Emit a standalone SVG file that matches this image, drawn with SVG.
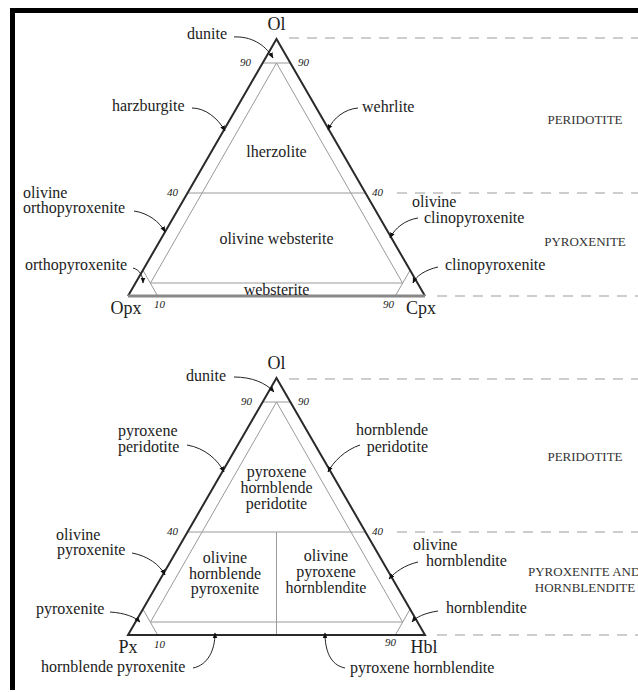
<svg xmlns="http://www.w3.org/2000/svg" width="638" height="692" viewBox="0 0 638 692">
<defs>
<marker id="ah" viewBox="0 0 10 10" refX="9" refY="5" markerWidth="6" markerHeight="6" markerUnits="userSpaceOnUse" orient="auto">
<path d="M0,1 L10,5 L0,9 z" fill="#111"/>
</marker>
<style>
text{font-family:"Liberation Serif","Times New Roman",serif;fill:#222}
.lb{font-size:16px}
.c{text-anchor:middle}
.r{text-anchor:end}
.ap{font-size:18px;text-anchor:middle}
.n{font-size:11px;font-style:italic}
.cap{font-size:13px;text-anchor:middle;fill:#333}
.edge{stroke:#2a2a2a;stroke-width:2;fill:none}
.base{stroke:#888;stroke-width:3;fill:none}
.in{stroke:#9a9a9a;stroke-width:1;fill:none}
.dash{stroke:#bdbdbd;stroke-width:1.3;stroke-dasharray:10 8;fill:none}
.arr{stroke:#222;stroke-width:1;fill:none;marker-end:url(#ah)}
</style>
</defs>
<rect width="638" height="692" fill="#fff"/>
<path d="M12.5,690 V10.5 H638" stroke="#000" stroke-width="5" fill="none"/>

<g id="dashes">
<line class="dash" x1="289" y1="38" x2="638" y2="38"/>
<line class="dash" x1="397" y1="193" x2="638" y2="193"/>
<line class="dash" x1="437" y1="296" x2="638" y2="296"/>
<line class="dash" x1="289" y1="379" x2="638" y2="379"/>
<line class="dash" x1="397" y1="532" x2="638" y2="532"/>
<line class="dash" x1="437" y1="635" x2="638" y2="635"/>
</g>

<g id="triangle-top">
<line class="in" x1="263" y1="63" x2="290" y2="63"/>
<line class="in" x1="276.5" y1="63" x2="150.5" y2="283"/>
<line class="in" x1="276.5" y1="63" x2="402.5" y2="283"/>
<line class="in" x1="187.4" y1="193" x2="365.6" y2="193"/>
<line class="in" x1="150.5" y1="283" x2="402.5" y2="283"/>
<line class="in" x1="157.7" y1="296" x2="142.8" y2="270"/>
<line class="in" x1="395.3" y1="296" x2="410.2" y2="270"/>
<path class="edge" d="M128,296 L276.5,39 L425,296"/>
<line class="base" x1="128" y1="296" x2="425" y2="296"/>
</g>

<g id="triangle-bottom">
<line class="in" x1="263" y1="402" x2="290" y2="402"/>
<line class="in" x1="276.5" y1="402" x2="150.5" y2="622"/>
<line class="in" x1="276.5" y1="402" x2="402.5" y2="622"/>
<line class="in" x1="187.4" y1="532" x2="365.6" y2="532"/>
<line class="in" x1="150.5" y1="622" x2="402.5" y2="622"/>
<line class="in" x1="276.5" y1="532" x2="276.5" y2="635"/>
<line class="in" x1="157.7" y1="635" x2="142.8" y2="609"/>
<line class="in" x1="395.3" y1="635" x2="410.2" y2="609"/>
<path class="edge" d="M128,635 L276.5,378 L425,635 Z"/>
</g>

<g id="connectors">
<path class="arr" d="M234,37 C250,36 265,44 273,58"/>
<path class="arr" d="M192,108 C205,108 218,118 225,131"/>
<path class="arr" d="M358,108 C345,109 333,118 328,130"/>
<path class="arr" d="M134,211 C148,213 160,222 165,232"/>
<path class="arr" d="M133,268 C140,270 143,276 143,283"/>
<path class="arr" d="M418,218 C405,220 395,228 390,238"/>
<path class="arr" d="M438,267 C425,270 416,276 413,283"/>
<path class="arr" d="M234,377 C252,377 266,383 274,392"/>
<path class="arr" d="M187,445 C205,448 218,460 224,472"/>
<path class="arr" d="M360,445 C345,450 333,462 328,472"/>
<path class="arr" d="M132,553 C148,556 160,565 165,575"/>
<path class="arr" d="M110,612 C125,613 135,617 140,622"/>
<path class="arr" d="M193,668 C208,665 215,650 215,633"/>
<path class="arr" d="M345,668 C330,665 325,650 325,633"/>
<path class="arr" d="M418,562 C405,565 395,572 389,579"/>
<path class="arr" d="M438,611 C425,613 416,617 412,622"/>
</g>

<g id="labels-top">
<text class="ap" x="276.5" y="30">Ol</text>
<text class="ap" x="126" y="314">Opx</text>
<text class="ap" x="421" y="314">Cpx</text>
<text class="n" x="240" y="66">90</text>
<text class="n" x="298" y="66">90</text>
<text class="n" x="167" y="196">40</text>
<text class="n" x="372" y="196">40</text>
<text class="n" x="154" y="308">10</text>
<text class="n" x="383" y="308">90</text>
<text class="lb" x="187" y="39">dunite</text>
<text class="lb" x="112" y="111">harzburgite</text>
<text class="lb" x="362" y="112">wehrlite</text>
<text class="lb c" x="276.5" y="157">lherzolite</text>
<text class="lb" x="23" y="198">olivine</text>
<text class="lb" x="23" y="213">orthopyroxenite</text>
<text class="lb c" x="276.5" y="244">olivine websterite</text>
<text class="lb" x="25" y="270">orthopyroxenite</text>
<text class="lb c" x="276.5" y="295">websterite</text>
<text class="lb" x="412" y="207">olivine</text>
<text class="lb" x="424" y="223">clinopyroxenite</text>
<text class="lb" x="445" y="270">clinopyroxenite</text>
<text class="cap" x="585" y="124">PERIDOTITE</text>
<text class="cap" x="585" y="246">PYROXENITE</text>
</g>

<g id="labels-bottom">
<text class="ap" x="276.5" y="369">Ol</text>
<text class="ap" x="128" y="653">Px</text>
<text class="ap" x="424" y="653">Hbl</text>
<text class="n" x="241" y="405">90</text>
<text class="n" x="298" y="405">90</text>
<text class="n" x="167" y="535">40</text>
<text class="n" x="372" y="535">40</text>
<text class="n" x="154" y="648">10</text>
<text class="n" x="385" y="646">90</text>
<text class="lb" x="186" y="381">dunite</text>
<text class="lb" x="118" y="436">pyroxene</text>
<text class="lb" x="118" y="452">peridotite</text>
<text class="lb r" x="428" y="435">hornblende</text>
<text class="lb r" x="428" y="452">peridotite</text>
<text class="lb c" x="276.5" y="477">pyroxene</text>
<text class="lb c" x="276.5" y="493">hornblende</text>
<text class="lb c" x="276.5" y="509">peridotite</text>
<text class="lb" x="56" y="540">olivine</text>
<text class="lb" x="57" y="555">pyroxenite</text>
<text class="lb c" x="225" y="563">olivine</text>
<text class="lb c" x="225" y="579">hornblende</text>
<text class="lb c" x="225" y="594">pyroxenite</text>
<text class="lb c" x="326" y="561">olivine</text>
<text class="lb c" x="326" y="577">pyroxene</text>
<text class="lb c" x="326" y="593">hornblendite</text>
<text class="lb" x="36" y="614">pyroxenite</text>
<text class="lb" x="41" y="672">hornblende pyroxenite</text>
<text class="lb" x="350" y="673">pyroxene hornblendite</text>
<text class="lb" x="413" y="550">olivine</text>
<text class="lb" x="426" y="566">hornblendite</text>
<text class="lb" x="446" y="613">hornblendite</text>
<text class="cap" x="585" y="461">PERIDOTITE</text>
<text class="cap" x="528" y="576" style="text-anchor:start">PYROXENITE AND</text>
<text class="cap" x="585" y="592">HORNBLENDITE</text>
</g>
</svg>
